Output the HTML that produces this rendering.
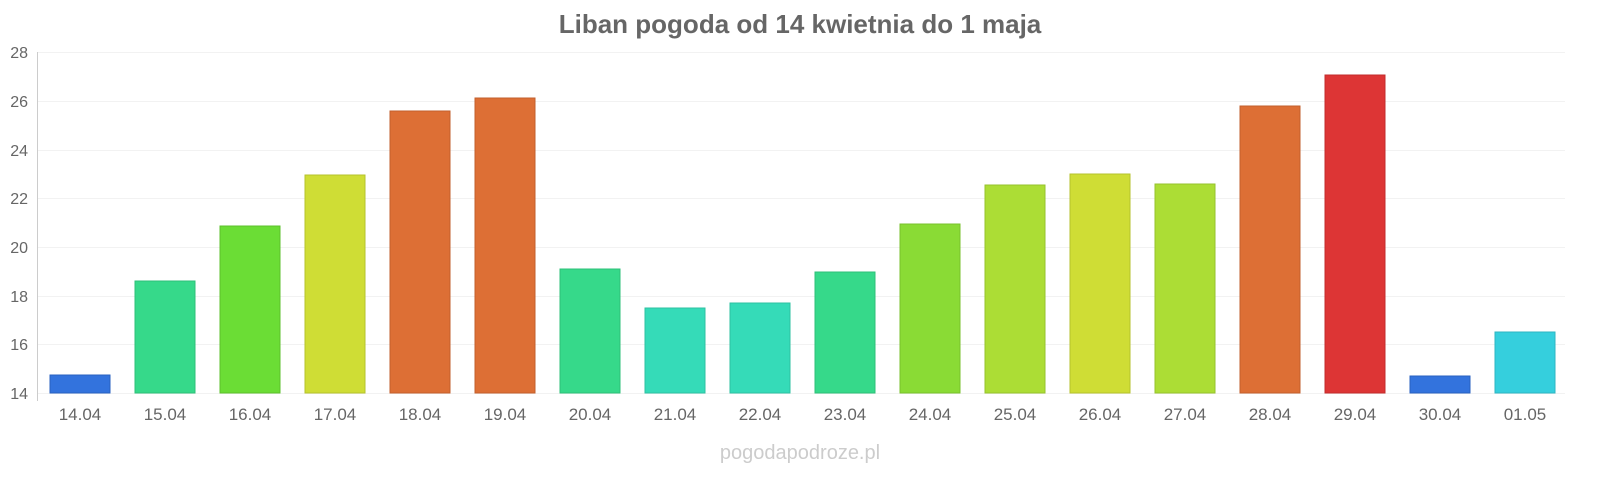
<!DOCTYPE html>
<html><head><meta charset="utf-8"><style>
body{margin:0;background:#fff;width:1600px;height:480px;overflow:hidden}
svg{font-family:"Liberation Sans",sans-serif}
</style></head><body>
<svg width="1600" height="480" xmlns="http://www.w3.org/2000/svg">
<text x="800" y="33" text-anchor="middle" font-size="26" font-weight="bold" fill="#666">Liban pogoda od 14 kwietnia do 1 maja</text>
<g stroke="#f2f2f2" stroke-width="1">
<line x1="37" x2="1565" y1="52.5" y2="52.5"/><line x1="37" x2="1565" y1="101.5" y2="101.5"/>
<line x1="37" x2="1565" y1="150.5" y2="150.5"/><line x1="37" x2="1565" y1="198.5" y2="198.5"/>
<line x1="37" x2="1565" y1="247.5" y2="247.5"/><line x1="37" x2="1565" y1="296.5" y2="296.5"/>
<line x1="37" x2="1565" y1="344.5" y2="344.5"/><line x1="37" x2="1565" y1="393.5" y2="393.5"/>
</g>
<line x1="37.5" x2="37.5" y1="52" y2="401" stroke="#ccc"/>
<g font-size="16" fill="#666" text-anchor="end">
<text x="28" y="58">28</text><text x="28" y="107">26</text><text x="28" y="156">24</text>
<text x="28" y="204">22</text><text x="28" y="253">20</text><text x="28" y="302">18</text>
<text x="28" y="350">16</text><text x="28" y="399">14</text>
</g>
<g stroke-width="1">
<rect x="50" y="375" width="60" height="18" fill="#3373dd" stroke="#2a62c0"/>
<rect x="135" y="281" width="60" height="112" fill="#36d98a" stroke="#2ec078"/>
<rect x="220" y="226" width="60" height="167" fill="#6bdd35" stroke="#5cc02c"/>
<rect x="305" y="175" width="60" height="218" fill="#cfdd35" stroke="#b6c22c"/>
<rect x="390" y="111" width="60" height="282" fill="#dd6f35" stroke="#c25f2c"/>
<rect x="475" y="98" width="60" height="295" fill="#dd6f35" stroke="#c25f2c"/>
<rect x="560" y="269" width="60" height="124" fill="#36d98a" stroke="#2ec078"/>
<rect x="645" y="308" width="60" height="85" fill="#35dbb8" stroke="#2dc0a2"/>
<rect x="730" y="303" width="60" height="90" fill="#35dbb8" stroke="#2dc0a2"/>
<rect x="815" y="272" width="60" height="121" fill="#36d98a" stroke="#2ec078"/>
<rect x="900" y="224" width="60" height="169" fill="#8adb35" stroke="#78c02c"/>
<rect x="985" y="185" width="60" height="208" fill="#acdd35" stroke="#96c22c"/>
<rect x="1070" y="174" width="60" height="219" fill="#cfdd35" stroke="#b6c22c"/>
<rect x="1155" y="184" width="60" height="209" fill="#acdd35" stroke="#96c22c"/>
<rect x="1240" y="106" width="60" height="287" fill="#dd6f35" stroke="#c25f2c"/>
<rect x="1325" y="75" width="60" height="318" fill="#dd3535" stroke="#c22c2c"/>
<rect x="1410" y="376" width="60" height="17" fill="#3373dd" stroke="#2a62c0"/>
<rect x="1495" y="332" width="60" height="61" fill="#35cfdd" stroke="#2db6c2"/>
</g>
<g font-size="17" fill="#666" text-anchor="middle">
<text x="80" y="420">14.04</text><text x="165" y="420">15.04</text><text x="250" y="420">16.04</text>
<text x="335" y="420">17.04</text><text x="420" y="420">18.04</text><text x="505" y="420">19.04</text>
<text x="590" y="420">20.04</text><text x="675" y="420">21.04</text><text x="760" y="420">22.04</text>
<text x="845" y="420">23.04</text><text x="930" y="420">24.04</text><text x="1015" y="420">25.04</text>
<text x="1100" y="420">26.04</text><text x="1185" y="420">27.04</text><text x="1270" y="420">28.04</text>
<text x="1355" y="420">29.04</text><text x="1440" y="420">30.04</text><text x="1525" y="420">01.05</text>
</g>
<text x="800" y="459" text-anchor="middle" font-size="20" fill="#ccc">pogodapodroze.pl</text>
</svg>
</body></html>
